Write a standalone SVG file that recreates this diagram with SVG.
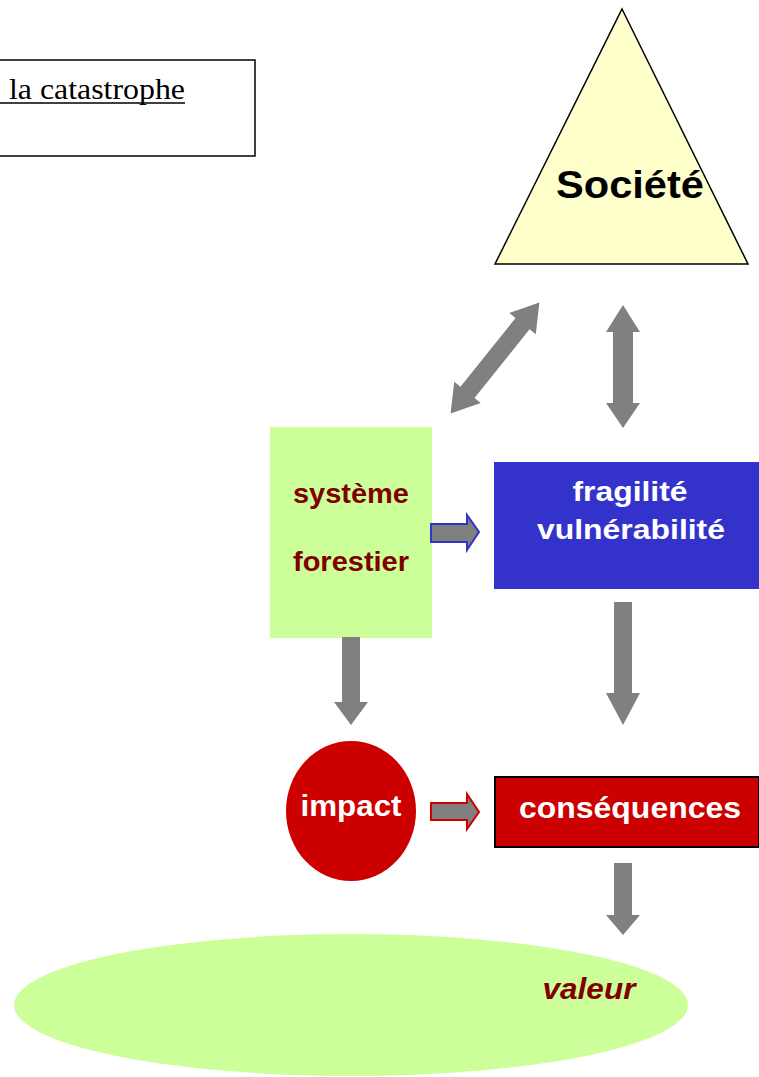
<svg xmlns="http://www.w3.org/2000/svg" width="759" height="1077" viewBox="0 0 759 1077">
  <style>
    .lbl { font-family: "Liberation Sans", Arial, sans-serif; font-weight: bold; text-anchor: middle; }
    .red { fill: #800000; }
    .white { fill: #ffffff; }
    .arrow { fill: #808080; }
  </style>

  <!-- caption box -->
  <g id="caption">
    <rect x="-2" y="60" width="257" height="96" fill="#ffffff" stroke="#000000" stroke-width="1.5"/>
    <text x="9" y="99" font-family="Liberation Serif, Times New Roman, serif" font-size="30" textLength="176" lengthAdjust="spacingAndGlyphs" fill="#000000">la catastrophe</text>
    <line x1="0" y1="103" x2="185" y2="103" stroke="#000000" stroke-width="1.5"/>
  </g>

  <!-- society -->
  <g id="societe">
    <polygon points="622,9 748,264 495,264" fill="#ffffcc" stroke="#000000" stroke-width="1.5"/>
    <text class="lbl" x="630" y="198" font-size="39" textLength="148" lengthAdjust="spacingAndGlyphs" fill="#000000">Société</text>
  </g>

  <!-- forest system -->
  <g id="systeme-forestier">
    <rect x="270" y="427" width="162" height="211" fill="#ccff99"/>
    <text class="lbl red" x="351" y="503" font-size="28" textLength="116" lengthAdjust="spacingAndGlyphs">système</text>
    <text class="lbl red" x="351" y="571" font-size="28" textLength="116" lengthAdjust="spacingAndGlyphs">forestier</text>
  </g>

  <!-- fragility / vulnerability -->
  <g id="fragilite">
    <rect x="494" y="462" width="266" height="127" fill="#3333cc"/>
    <text class="lbl white" x="630" y="501" font-size="28" textLength="115" lengthAdjust="spacingAndGlyphs">fragilité</text>
    <text class="lbl white" x="631" y="539" font-size="28" textLength="188" lengthAdjust="spacingAndGlyphs">vulnérabilité</text>
  </g>

  <!-- impact -->
  <g id="impact">
    <ellipse cx="351" cy="811" rx="65" ry="70" fill="#cc0000"/>
    <text class="lbl white" x="351" y="816" font-size="29" textLength="101" lengthAdjust="spacingAndGlyphs">impact</text>
  </g>

  <!-- consequences -->
  <g id="consequences">
    <rect x="495" y="777" width="264" height="70" fill="#cc0000" stroke="#000000" stroke-width="2"/>
    <text class="lbl white" x="630" y="818" font-size="29" textLength="222" lengthAdjust="spacingAndGlyphs">conséquences</text>
  </g>

  <!-- value -->
  <g id="valeur">
    <ellipse cx="351" cy="1005" rx="337" ry="71" fill="#ccff99"/>
    <text class="lbl red" x="589" y="999" font-size="29" font-style="italic" textLength="93" lengthAdjust="spacingAndGlyphs">valeur</text>
  </g>

  <!-- connectors -->
  <g id="connectors">
    <!-- diagonal two-way arrow: forest system <-> society -->
    <path class="arrow" transform="translate(495,358) rotate(38.7)" d="M0,-71 L17,-44 L9,-44 L9,44 L17,44 L0,71 L-17,44 L-9,44 L-9,-44 L-17,-44 Z"/>
    <!-- vertical two-way arrow: society <-> fragility -->
    <path class="arrow" d="M623,305 L640,332 L633,332 L633,403 L640,403 L623,428 L606,403 L613,403 L613,332 L606,332 Z"/>
    <!-- forest system -> fragility -->
    <path class="arrow" stroke="#3333cc" stroke-width="2" d="M431,524 L467,524 L467,515 L479,532 L467,550 L467,542 L431,542 Z"/>
    <!-- forest system -> impact -->
    <path class="arrow" d="M342,637 L360,637 L360,702 L368,702 L351,725 L334,702 L342,702 Z"/>
    <!-- fragility -> consequences -->
    <path class="arrow" d="M614,602 L632,602 L632,693 L640,693 L623,725 L606,693 L614,693 Z"/>
    <!-- impact -> consequences -->
    <path class="arrow" stroke="#cc0000" stroke-width="2" d="M431,803 L467,803 L467,794 L479,812 L467,829 L467,820 L431,820 Z"/>
    <!-- consequences -> value -->
    <path class="arrow" d="M614,863 L632,863 L632,915 L640,915 L623,935 L606,915 L614,915 Z"/>
  </g>
</svg>
